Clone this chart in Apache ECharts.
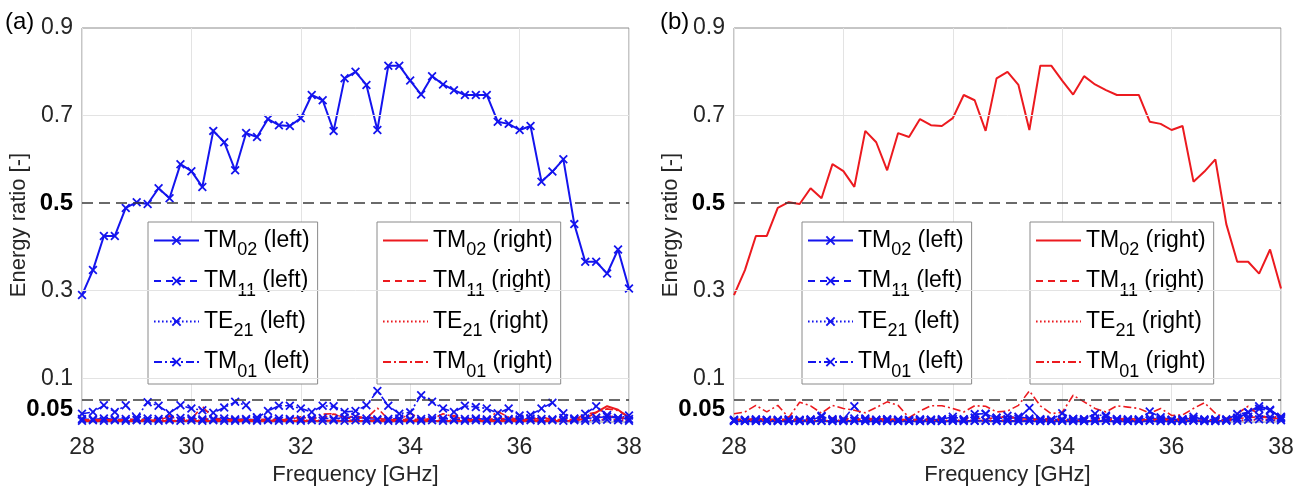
<!DOCTYPE html>
<html>
<head>
<meta charset="utf-8">
<script src="https://cdn.jsdelivr.net/npm/echarts@6/dist/echarts.min.js"></script>
<style>
  html, body { margin: 0; padding: 0; background: #ffffff; }
  #wrap { position: relative; width: 1311px; height: 493px; }
  #chartA { position: absolute; left: 0; top: 0; width: 655px; height: 493px; }
  #chartB { position: absolute; left: 655px; top: 0; width: 656px; height: 493px; }
</style>
</head>
<body>
<div id="wrap"><div id="chartA"></div><div id="chartB"></div></div>
<script>
// Frequency samples [GHz]
const freq = [
  28.0, 28.2, 28.4, 28.6, 28.8, 29.0, 29.2, 29.4, 29.6, 29.8,
  30.0, 30.2, 30.4, 30.6, 30.8, 31.0, 31.2, 31.4, 31.6, 31.8,
  32.0, 32.2, 32.4, 32.6, 32.8, 33.0, 33.2, 33.4, 33.6, 33.8,
  34.0, 34.2, 34.4, 34.6, 34.8, 35.0, 35.2, 35.4, 35.6, 35.8,
  36.0, 36.2, 36.4, 36.6, 36.8, 37.0, 37.2, 37.4, 37.6, 37.8,
  38.0
];

// Energy ratios at the excited port
const tm02Main = [
  0.290, 0.347, 0.425, 0.425, 0.489, 0.502, 0.498, 0.534, 0.511, 0.589,
  0.573, 0.537, 0.665, 0.639, 0.575, 0.660, 0.651, 0.692, 0.678, 0.676,
  0.694, 0.747, 0.735, 0.665, 0.785, 0.800, 0.770, 0.667, 0.814, 0.814,
  0.780, 0.748, 0.790, 0.771, 0.758, 0.747, 0.747, 0.747, 0.686, 0.681,
  0.667, 0.676, 0.549, 0.572, 0.600, 0.452, 0.366, 0.366, 0.339, 0.394,
  0.305
];
const tm11Main = [
  0.007, 0.006, 0.008, 0.006, 0.007, 0.005, 0.008, 0.007, 0.006, 0.009,
  0.008, 0.006, 0.007, 0.008, 0.006, 0.007, 0.005, 0.006, 0.008, 0.007,
  0.006, 0.008, 0.009, 0.007, 0.010, 0.012, 0.008, 0.006, 0.007, 0.008,
  0.006, 0.007, 0.009, 0.008, 0.006, 0.007, 0.008, 0.006, 0.005, 0.007,
  0.006, 0.008, 0.007, 0.006, 0.009, 0.007, 0.008, 0.010, 0.012, 0.009,
  0.007
];
const te21Main = [
  0.003, 0.004, 0.003, 0.004, 0.003, 0.004, 0.003, 0.003, 0.004, 0.003,
  0.004, 0.003, 0.004, 0.003, 0.003, 0.004, 0.003, 0.004, 0.003, 0.004,
  0.003, 0.004, 0.003, 0.004, 0.003, 0.004, 0.003, 0.004, 0.003, 0.003,
  0.004, 0.003, 0.004, 0.003, 0.004, 0.003, 0.004, 0.003, 0.003, 0.004,
  0.003, 0.004, 0.003, 0.004, 0.003, 0.004, 0.003, 0.004, 0.005, 0.004,
  0.003
];
const tm01Main = [
  0.019, 0.023, 0.038, 0.023, 0.038, 0.010, 0.045, 0.037, 0.020, 0.038,
  0.031, 0.027, 0.021, 0.033, 0.046, 0.038, 0.010, 0.025, 0.037, 0.037,
  0.031, 0.023, 0.037, 0.036, 0.023, 0.025, 0.038, 0.071, 0.037, 0.019,
  0.022, 0.061, 0.046, 0.031, 0.023, 0.037, 0.034, 0.031, 0.020, 0.031,
  0.015, 0.016, 0.031, 0.044, 0.020, 0.008, 0.019, 0.036, 0.016, 0.009,
  0.015
];

// Energy ratios at the opposite port
const tm02Other = [
  0.002, 0.002, 0.002, 0.002, 0.002, 0.002, 0.002, 0.002, 0.003, 0.002,
  0.002, 0.003, 0.002, 0.002, 0.002, 0.002, 0.002, 0.002, 0.002, 0.002,
  0.003, 0.002, 0.003, 0.003, 0.002, 0.003, 0.002, 0.003, 0.002, 0.002,
  0.003, 0.002, 0.002, 0.002, 0.003, 0.002, 0.002, 0.002, 0.003, 0.002,
  0.002, 0.002, 0.003, 0.002, 0.002, 0.003, 0.008, 0.022, 0.036, 0.028,
  0.010
];
const tm11Other = [
  0.005, 0.005, 0.006, 0.005, 0.005, 0.006, 0.005, 0.006, 0.014, 0.006,
  0.005, 0.008, 0.006, 0.005, 0.006, 0.005, 0.005, 0.006, 0.005, 0.006,
  0.007, 0.006, 0.010, 0.018, 0.009, 0.007, 0.012, 0.008, 0.006, 0.005,
  0.006, 0.007, 0.006, 0.008, 0.015, 0.007, 0.006, 0.005, 0.009, 0.006,
  0.005, 0.006, 0.008, 0.006, 0.005, 0.006, 0.010, 0.012, 0.014, 0.011,
  0.008
];
const te21Other = [
  0.003, 0.003, 0.003, 0.004, 0.003, 0.003, 0.003, 0.004, 0.003, 0.003,
  0.004, 0.003, 0.003, 0.003, 0.004, 0.003, 0.003, 0.003, 0.004, 0.003,
  0.003, 0.004, 0.003, 0.003, 0.004, 0.003, 0.003, 0.004, 0.003, 0.003,
  0.003, 0.004, 0.003, 0.003, 0.003, 0.004, 0.003, 0.003, 0.004, 0.003,
  0.003, 0.003, 0.004, 0.003, 0.003, 0.004, 0.003, 0.005, 0.006, 0.005,
  0.004
];
const tm01Other = [
  0.004, 0.004, 0.005, 0.004, 0.004, 0.005, 0.004, 0.005, 0.012, 0.006,
  0.006, 0.036, 0.008, 0.005, 0.006, 0.005, 0.004, 0.005, 0.005, 0.006,
  0.012, 0.006, 0.018, 0.019, 0.010, 0.014, 0.008, 0.032, 0.006, 0.005,
  0.020, 0.007, 0.006, 0.019, 0.012, 0.006, 0.005, 0.006, 0.024, 0.011,
  0.005, 0.006, 0.012, 0.005, 0.006, 0.005, 0.018, 0.022, 0.030, 0.026,
  0.012
];

// Axis settings
const xTicks = { min: 28, max: 38, step: 2 };
const yLabelValues = [0.05, 0.1, 0.3, 0.5, 0.7, 0.9];
const yBoldValues = [0.05, 0.5];
const yGridValues = [0.1, 0.3, 0.7];
const yRefValues = [0.05, 0.5];

const BLUE = '#1414ee';
const RED = '#ec1a1f';
const FONT = '"Liberation Sans", Arial, Helvetica, sans-serif';
const CROSS = 'path://M0,1.4L1.4,0L5,3.6L8.6,0L10,1.4L6.4,5L10,8.6L8.6,10L5,6.4L1.4,10L0,8.6L3.6,5Z';

const STYLES = {
  TM02: 'solid',
  TM11: [7, 5],
  TE21: [1.6, 2.4],
  TM01: [8, 3, 2, 3]
};

function pairs(values) {
  return freq.map((f, i) => [f, values[i]]);
}

function close(a, b) { return Math.abs(a - b) < 1e-6; }

function makeSeries(mode, side, values, color, marked, width) {
  return {
    name: mode + ' (' + side + ')',
    type: 'line',
    data: pairs(values),
    color: color,
    symbol: marked ? CROSS : 'none',
    symbolSize: 9,
    showSymbol: marked,
    itemStyle: { color: color },
    lineStyle: { color: color, width: width, type: STYLES[mode] },
    silent: true,
    animation: false,
    z: 3
  };
}

function legendFormatter(name) {
  const m = name.match(/^(TM|TE)(\d\d)(.*)$/);
  return '{m|' + m[1] + '}{s|' + m[2] + '}{m|' + m[3] + '}';
}

// Plain-line entries get a hidden icon symbol so only the line sample shows.
function makeLegend(names, left, plain) {
  return {
    data: names.map(n => plain ? { name: n, itemStyle: { opacity: 0 } } : { name: n }),
    orient: 'vertical',
    left: left,
    top: 222,
    itemWidth: 45,
    itemHeight: 12,
    itemGap: 10,
    padding: [7, 8, 3, 5],
    borderColor: '#8a8a8a',
    borderWidth: 1,
    backgroundColor: '#ffffff',
    selectedMode: false,
    formatter: legendFormatter,
    textStyle: {
      fontFamily: FONT,
      color: '#000',
      rich: {
        m: { fontFamily: FONT, fontSize: 23, color: '#000' },
        s: { fontFamily: FONT, fontSize: 18, color: '#000', padding: [20, 0, 0, 0] }
      }
    }
  };
}

function buildOption(tag, excited, gridLeft, gridRight, legendLefts) {
  const leftMain = excited === 'left';
  const L = leftMain
    ? { TM02: tm02Main, TM11: tm11Main, TE21: te21Main, TM01: tm01Main }
    : { TM02: tm02Other, TM11: tm11Other, TE21: te21Other, TM01: tm01Other };
  const R = leftMain
    ? { TM02: tm02Other, TM11: tm11Other, TE21: te21Other, TM01: tm01Other }
    : { TM02: tm02Main, TM11: tm11Main, TE21: te21Main, TM01: tm01Main };
  const modes = ['TM02', 'TM11', 'TE21', 'TM01'];

  const guide = {
    name: 'guides',
    type: 'line',
    data: [],
    silent: true,
    z: 1,
    markLine: {
      silent: true,
      symbol: 'none',
      animation: false,
      label: { show: false },
      data: yGridValues.map(v => ({ yAxis: v, lineStyle: { color: '#e3e3e3', width: 1, type: 'solid' } }))
    }
  };
  const refs = {
    name: 'refs',
    type: 'line',
    data: [],
    silent: true,
    z: 2,
    markLine: {
      silent: true,
      symbol: 'none',
      animation: false,
      label: { show: false },
      data: yRefValues.map(v => ({ yAxis: v, lineStyle: { color: '#3a3a3a', width: 1.6, type: [11, 6] } }))
    }
  };

  const series = [guide, refs];
  modes.forEach(m => series.push(makeSeries(m, 'left', L[m], BLUE, true, m === 'TM02' ? 2 : 1.6)));
  modes.forEach(m => series.push(makeSeries(m, 'right', R[m], RED, false, m === 'TM02' ? 2 : 1.6)));

  return {
    backgroundColor: '#ffffff',
    animation: false,
    textStyle: { fontFamily: FONT },
    grid: {
      left: gridLeft, right: gridRight, top: 28, bottom: 71,
      containLabel: false, outerBoundsMode: 'none',
      show: true, borderColor: '#8c8c8c', borderWidth: 1, backgroundColor: '#ffffff'
    },
    graphic: [{
      type: 'text', left: 5, top: 10,
      style: { text: tag, fontFamily: FONT, fontSize: 24, fill: '#000' }
    }],
    xAxis: {
      type: 'value',
      min: xTicks.min, max: xTicks.max, interval: xTicks.step,
      name: 'Frequency [GHz]',
      nameLocation: 'middle',
      nameGap: 40,
      nameTextStyle: { fontFamily: FONT, fontSize: 22, color: '#262626' },
      axisLine: { show: false },
      axisTick: { show: true, inside: true, length: 5, lineStyle: { color: '#8c8c8c' } },
      axisLabel: { fontFamily: FONT, fontSize: 23, color: '#262626', margin: 14 },
      splitLine: { show: true, lineStyle: { color: '#e3e3e3', width: 1 } }
    },
    yAxis: {
      type: 'value',
      min: 0, max: 0.9, interval: 0.05,
      name: 'Energy ratio [-]',
      nameLocation: 'middle',
      nameGap: 52,
      nameMoveOverlap: false,
      nameTextStyle: { fontFamily: FONT, fontSize: 22, color: '#262626' },
      axisLine: { show: false },
      axisTick: { show: false },
      splitLine: { show: false },
      axisLabel: {
        margin: 9,
        formatter: function (v) {
          const hit = yLabelValues.find(t => close(t, v));
          if (hit === undefined) return '';
          if (close(hit, 0.05)) return '{lo|0.05}';
          if (yBoldValues.some(b => close(b, hit))) return '{b|' + hit + '}';
          return '{n|' + hit + '}';
        },
        rich: {
          n: { fontFamily: FONT, fontSize: 23, color: '#262626' },
          b: { fontFamily: FONT, fontSize: 24, fontWeight: 'bold', color: '#000' },
          lo: { fontFamily: FONT, fontSize: 24, fontWeight: 'bold', color: '#000', padding: [18, 0, 0, 0] }
        }
      }
    },
    legend: [
      makeLegend(modes.map(m => m + ' (left)'), legendLefts[0], false),
      makeLegend(modes.map(m => m + ' (right)'), legendLefts[1], true)
    ],
    series: series
  };
}

const chartA = echarts.init(document.getElementById('chartA'), null, { renderer: 'canvas' });
chartA.setOption(buildOption('(a)', 'left', 82, 26, [148, 377]));
const chartB = echarts.init(document.getElementById('chartB'), null, { renderer: 'canvas' });
chartB.setOption(buildOption('(b)', 'right', 79, 30, [147, 375]));
</script>
</body>
</html>
